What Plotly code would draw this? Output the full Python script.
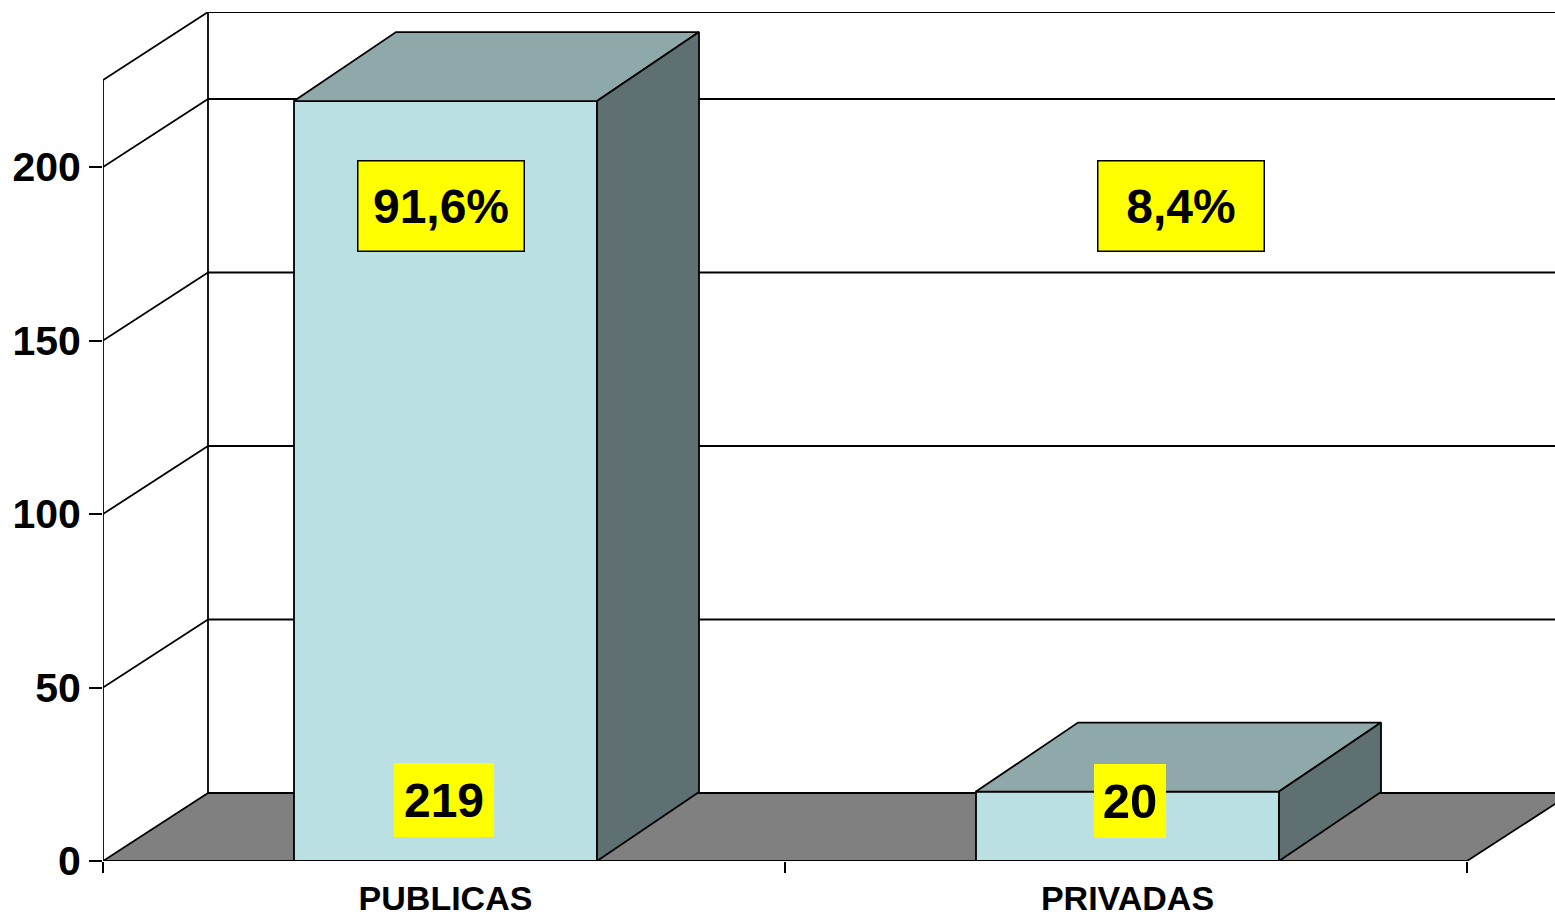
import plotly.graph_objects as go

categories = ["PUBLICAS", "PRIVADAS"]
values = [219, 20]
percent_labels = ["91,6%", "8,4%"]
y_ticks = [0, 50, 100, 150, 200]

PX_X = 682.0      # px per category band
PX_Y = 3.47       # px per value unit
W, H = 1555, 914
ML, MB, MT = 103, 53, 12
y_top = (H - MB - MT) / PX_Y
x_top = (W - ML) / PX_X
wall_dx, wall_dy = 105 / PX_X, 68 / PX_Y
bar_dx, bar_dy = 102 / PX_X, 69 / PX_Y
bar_w = 303 / PX_X
bar_shift = 1.5 / PX_X
axis_max = y_top - wall_dy
centers = [i + 0.5 for i in range(len(categories))]
bar_x = [c + bar_shift for c in centers]

FRONT, TOP, SIDE, FLOOR = "#BAE0E3", "#8FA8AA", "#5F7072", "#808080"
LINE = dict(color="#000000", width=1.8)

shapes = []
def poly(xs, ys, fill=None, line=LINE):
    path = "M " + " L ".join(f"{x},{y}" for x, y in zip(xs, ys)) + " Z"
    shapes.append(dict(type="path", path=path, xref="x", yref="y", layer="below",
                       fillcolor=fill or "rgba(0,0,0,0)", line=line))
def seg(x0, y0, x1, y1):
    shapes.append(dict(type="line", x0=x0, y0=y0, x1=x1, y1=y1, xref="x", yref="y",
                       layer="below", line=LINE))

# floor
far = x_top + 0.3
poly([0, wall_dx, 2 + wall_dx, 2], [0, wall_dy, wall_dy, 0], FLOOR, dict(color="rgba(0,0,0,0)", width=0))
seg(0, 0, wall_dx, wall_dy)
seg(wall_dx, wall_dy, far, wall_dy)
seg(0, 0, 2, 0)
seg(2, 0, 2 + wall_dx, wall_dy)
# walls and gridlines
seg(wall_dx, wall_dy, wall_dx, axis_max + wall_dy)
for v in y_ticks[1:] + [axis_max]:
    seg(0, v, wall_dx, v + wall_dy)
    seg(wall_dx, v + wall_dy, far, v + wall_dy)
seg(0, 0, 0, axis_max)

fig = go.Figure()
fig.add_trace(go.Bar(x=bar_x, y=values, width=bar_w, marker=dict(color=FRONT, line=LINE), showlegend=False))
for c, v in zip(bar_x, values):
    l, r = c - bar_w / 2, c + bar_w / 2
    fig.add_trace(go.Scatter(x=[l, r, r + bar_dx, l + bar_dx, l], y=[v, v, v + bar_dy, v + bar_dy, v],
                             mode="lines", fill="toself", fillcolor=TOP, line=LINE, showlegend=False))
    fig.add_trace(go.Scatter(x=[r, r + bar_dx, r + bar_dx, r, r], y=[0, bar_dy, v + bar_dy, v, 0],
                             mode="lines", fill="toself", fillcolor=SIDE, line=LINE, showlegend=False))

FONT = "Liberation Sans, Arial, sans-serif"
pct_x = [0.496, 1.581]
pct_y = [188.9, 188.9]
val_x = [0.5, 1.506]
val_y = [17.6, 17.4]
val_w = [100, 72]
val_size = [48, 49]
annotations = []
for x, y, t in zip(pct_x, pct_y, percent_labels):
    annotations.append(dict(x=x, y=y, text=f"<b>{t}</b>", showarrow=False, width=165, height=89,
                            bgcolor="#FFFF00", bordercolor="#000000", borderwidth=1.5, borderpad=0,
                            font=dict(family=FONT, size=48, color="#000000")))
for x, y, v, w, s in zip(val_x, val_y, values, val_w, val_size):
    annotations.append(dict(x=x, y=y, text=f"<b>{v}</b>", showarrow=False, width=w, height=74,
                            bgcolor="#FFFF00", borderwidth=0, borderpad=0,
                            font=dict(family=FONT, size=s, color="#000000")))

fig.update_layout(
    width=W, height=H, autosize=False, margin=dict(l=ML, r=0, t=MT, b=MB),
    paper_bgcolor="#FFFFFF", plot_bgcolor="#FFFFFF", shapes=shapes, annotations=annotations,
    showlegend=False, barmode="overlay",
    font=dict(family=FONT, color="#000000"),
    xaxis=dict(range=[0, x_top], tickmode="array", tickvals=bar_x, automargin=False,
               ticktext=[f"<b>{c}</b>" for c in categories], ticks="", showgrid=False, zeroline=False,
               tickfont=dict(size=34, family=FONT), ticklabelstandoff=14,
               minor=dict(tickmode="array", tickvals=[0, 1, 2], ticks="outside", ticklen=11,
                          tickcolor="#000000", tickwidth=1.5, showgrid=False)),
    yaxis=dict(range=[0, y_top], tickmode="array", tickvals=y_ticks, automargin=False,
               ticktext=[f"<b>{v}</b>" for v in y_ticks], ticks="outside", ticklen=13,
               tickcolor="#000000", tickwidth=1.5, showgrid=False, zeroline=False,
               tickfont=dict(size=41, family=FONT), ticklabelstandoff=0),
)
fig.write_html("out.html", config=dict(displayModeBar=False),
               post_script="document.body.style.margin='0';document.body.style.overflow='hidden';")
